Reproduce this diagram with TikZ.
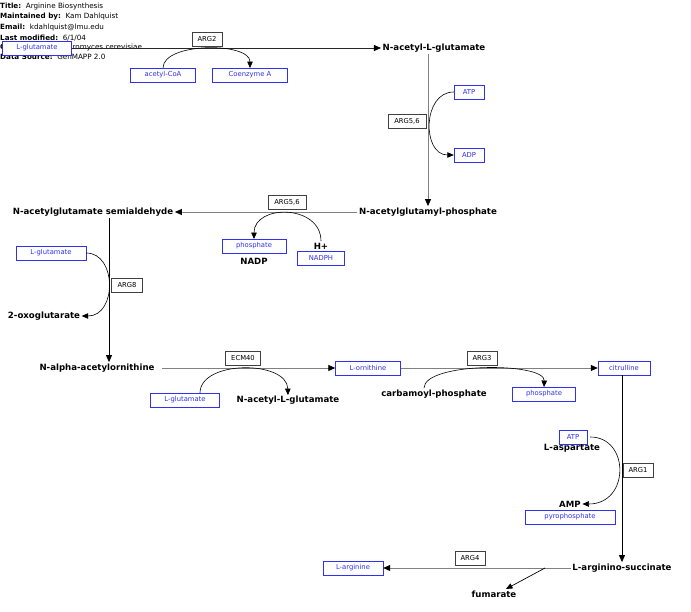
\documentclass[tikz,border=0pt]{standalone}
\usepackage{fontspec}
\setmainfont{DejaVu Sans}
\usetikzlibrary{arrows.meta}
\definecolor{mblue}{HTML}{3030F0}
\begin{document}
\begin{tikzpicture}[x=1pt,y=-1pt,
  ebox/.style={draw=black!75, fill=white, font=\fontsize{6.8}{7}\selectfont, inner sep=0pt, minimum height=14pt},
  mbox/.style={draw=mblue, fill=white, text=mblue, font=\fontsize{6.8}{7}\selectfont, inner sep=0pt, minimum height=13.5pt},
  mlab/.style={font=\fontsize{8.6}{9}\selectfont\bfseries, inner sep=1.5pt},
  hdr/.style={anchor=west, font=\fontsize{7.2}{8}\selectfont, inner sep=0pt},
  conn/.style={-{Triangle[length=7pt,width=6pt,color=black]}, line width=0.8pt},
  grayline/.style={black!50},
  side/.style={-{Triangle[length=6.5pt,width=5.5pt]}, line width=0.6pt}
]
\useasboundingbox (0,0) rectangle (691,612);
% header
\node[hdr] (h1) at (0,7) {\textbf{Title:}\ \ Arginine Biosynthesis};
\node[hdr] (h2) at (0,17) {\textbf{Maintained by:}\ \ Kam Dahlquist};
\node[hdr] (h3) at (0,28) {\textbf{Email:}\ \ kdahlquist@lmu.edu};
\node[hdr] (h4) at (0,38) {\textbf{Last modified:}\ \ 6/1/04};
\node[hdr] (h5) at (0,48) {\textbf{Organism:}\ \ Saccharomyces cerevisiae};
\node[hdr] (h6) at (0,57) {\textbf{Data Source:}\ \ GenMAPP 2.0};

% step 1: ARG2
\node[mbox, minimum width=69pt] (lglu1) at (37,48) {L-glutamate};
\node[mlab] (nalg1) at (434,48) {N-acetyl-L-glutamate};
\draw[conn, black!85] (lglu1.east) -- (nalg1.west);
\node[ebox, minimum width=30pt] (arg2) at (207,39) {ARG2};
\node[mbox, minimum width=65pt] (acoa) at (163,75) {acetyl-CoA};
\node[mbox, minimum width=75pt] (coa) at (250,75) {Coenzyme A};
\draw[side] (acoa.north) .. controls (163,42) and (250,42) .. (coa.north);

% step 2: ARG5,6 (kinase)
\node[mlab] (nagp) at (428,212) {N-acetylglutamyl-phosphate};
\draw[conn, grayline] (nagp.north |- nalg1.south) -- (nagp.north);
\node[ebox, minimum width=38pt] (arg56a) at (407,121) {ARG5,6};
\node[mbox, minimum width=30pt] (atp1) at (469,92) {ATP};
\node[mbox, minimum width=30pt] (adp1) at (469,155) {ADP};
\draw[side] (atp1.west) .. controls (422,92) and (422,155) .. (adp1.west);

% step 3: ARG5,6 (reductase)
\node[mlab] (nags) at (93,212) {N-acetylglutamate semialdehyde};
\draw[conn, grayline] (nagp.west) -- (nags.east);
\node[ebox, minimum width=38pt] (arg56b) at (287,202) {ARG5,6};
\node[mbox, minimum width=64pt] (pho1) at (254,246) {phosphate};
\node[mlab] (nadp) at (254,261) {NADP};
\node[mlab] (hplus) at (321,246) {H+};
\node[mbox, minimum width=47pt] (nadph) at (321,258) {NADPH};
\draw[side] (hplus.north) .. controls (321,204) and (254,204) .. (pho1.north);

% step 4: ARG8
\node[mlab] (naao) at (97,368) {N-alpha-acetylornithine};
\draw[conn] ([xshift=16pt]nags.south) -- ([xshift=12pt]naao.north);
\node[ebox, minimum width=31pt] (arg8) at (127,285) {ARG8};
\node[mbox, minimum width=70pt] (lglu2) at (51,253) {L-glutamate};
\node[mlab] (oxo) at (44,316) {2-oxoglutarate};
\draw[side] (lglu2.east) .. controls (117,253) and (117,316) .. (oxo.east);

% step 5: ECM40
\node[mbox, minimum width=65pt] (orn) at (368,368) {L-ornithine};
\draw[conn, grayline] ([xshift=6pt]naao.east) -- (orn.west);
\node[ebox, minimum width=35pt] (ecm40) at (243,358) {ECM40};
\node[mbox, minimum width=69pt] (lglu3) at (185,400) {L-glutamate};
\node[mlab] (nalg2) at (288,400) {N-acetyl-L-glutamate};
\draw[side] ([xshift=15pt]lglu3.north) .. controls (200,360) and (287,360) .. ([yshift=-1pt]nalg2.north);

% step 6: ARG3
\node[mbox, minimum width=52pt] (cit) at (624,368) {citrulline};
\draw[conn, grayline] (orn.east) -- (cit.west);
\node[ebox, minimum width=30pt] (arg3) at (482,358) {ARG3};
\node[mlab] (carb) at (434,394) {carbamoyl-phosphate};
\node[mbox, minimum width=63pt] (pho2) at (544,394) {phosphate};
\draw[side] ([xshift=-10pt]carb.north) .. controls (424,362) and (545,362) .. (pho2.north);

% step 7: ARG1
\node[mlab] (asuc) at (622,568) {L-arginino-succinate};
\draw[conn] (asuc.north |- cit.south) -- (asuc.north);
\node[ebox, minimum width=30pt] (arg1) at (638,470) {ARG1};
\node[mbox, minimum width=28pt] (atp2) at (573,437) {ATP};
\node[mlab] (asp) at (572,448) {L-aspartate};
\node[mlab] (amp) at (570,504) {AMP};
\node[mbox, minimum width=90pt] (ppi) at (570,517) {pyrophosphate};
\draw[side] ([xshift=3pt]atp2.east) .. controls (630,437) and (630,504) .. (amp.east);

% step 8: ARG4
\node[mbox, minimum width=60pt] (arg) at (353,568) {L-arginine};
\draw[conn, grayline] (asuc.west) -- (arg.east);
\node[ebox, minimum width=30pt] (arg4) at (470,558) {ARG4};
\node[mlab] (fum) at (494,594) {fumarate};
\coordinate (fsplit) at (545,568);
\draw[side, line width=0.7pt] (fsplit) -- ([xshift=12pt]fum.north);
\end{tikzpicture}
\end{document}
